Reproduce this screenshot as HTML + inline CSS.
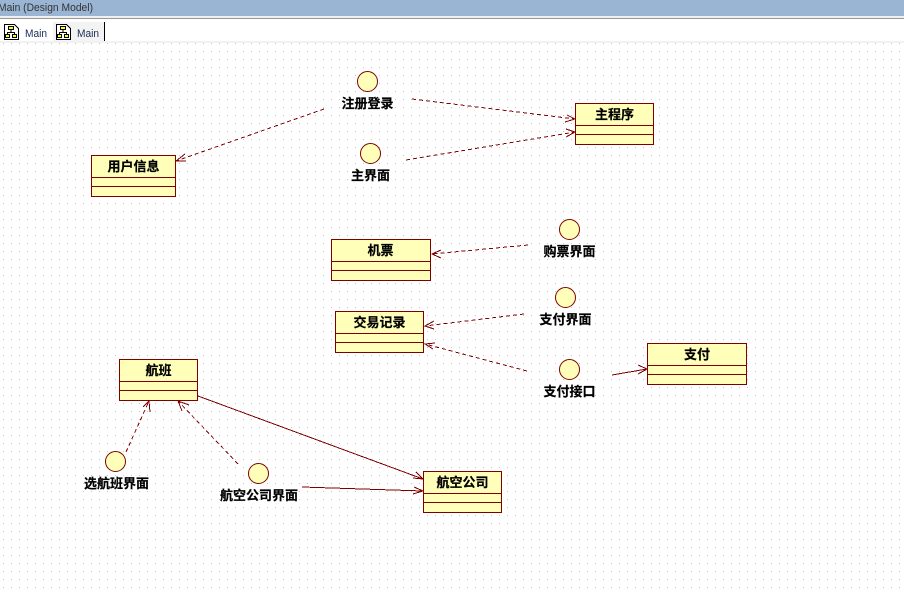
<!DOCTYPE html>
<html><head><meta charset="utf-8">
<style>
html,body{margin:0;padding:0;background:#fff}
#r{position:relative;width:904px;height:593px;overflow:hidden;background:#fff}
svg{position:absolute;left:0;top:0}
.l{font-family:"Liberation Sans","Noto Sans CJK SC",sans-serif;font-weight:700;font-size:13px;fill:#000;text-anchor:middle;stroke:#000;stroke-width:.2px}
.u{font-family:"Liberation Sans",sans-serif;font-size:11px}
</style></head><body><div id="r">
<svg width="904" height="593" viewBox="0 0 904 593" xmlns="http://www.w3.org/2000/svg">
<defs>
<pattern id="d" x="3" y="3" width="8" height="8" patternUnits="userSpaceOnUse"><rect width="1" height="1" fill="#c4c4c4"/></pattern>
<g id="ic" shape-rendering="crispEdges">
<path d="M0.5 0.5H10.5L14.5 4.5V15.5H0.5Z" fill="#fff" stroke="#000"/>
<rect x="4.5" y="2.5" width="5" height="3" fill="#ff0" stroke="#000"/>
<rect x="1.5" y="10.5" width="4" height="3" fill="#ff0" stroke="#000"/>
<rect x="8.5" y="10.5" width="4" height="3" fill="#ff0" stroke="#000"/>
<path d="M7 6V8.5M3.5 10V8.5H10.5V10" fill="none" stroke="#000"/>
</g>
</defs>
<rect y="43" width="904" height="550" fill="url(#d)"/>
<rect width="904" height="16" fill="#9ab4d3"/>
<rect y="16" width="904" height="2" fill="#f0f0f0"/>
<rect y="18" width="904" height="1" fill="#999"/>
<rect y="41" width="904" height="2" fill="#f2f2f2"/>
<rect x="53" y="22" width="51" height="19" fill="#f3f3f3"/>
<rect x="104" y="22" width="1" height="19" fill="#000"/>
<text x="-2" y="11" class="u" fill="#333" textLength="95" lengthAdjust="spacingAndGlyphs">Main (Design Model)</text>
<use href="#ic" x="4" y="24"/><use href="#ic" x="56" y="24"/>
<text x="25" y="37" class="u" fill="#1a2a5a" textLength="22" lengthAdjust="spacingAndGlyphs">Main</text>
<text x="77" y="37" class="u" fill="#1a2a5a" textLength="22" lengthAdjust="spacingAndGlyphs">Main</text>

<g fill="#ffffb9" stroke="#800000" shape-rendering="crispEdges">
<rect x="91.5" y="155.5" width="84" height="41"/><path d="M91.5 177.5H175.5M91.5 186.5H175.5"/>
<rect x="575.5" y="103.5" width="78" height="41"/><path d="M575.5 125.5H653.5M575.5 134.5H653.5"/>
<rect x="331.5" y="239.5" width="99" height="41"/><path d="M331.5 261.5H430.5M331.5 270.5H430.5"/>
<rect x="335.5" y="311.5" width="88" height="41"/><path d="M335.5 333.5H423.5M335.5 342.5H423.5"/>
<rect x="647.5" y="343.5" width="99" height="41"/><path d="M647.5 365.5H746.5M647.5 374.5H746.5"/>
<rect x="119.5" y="359.5" width="78" height="41"/><path d="M119.5 381.5H197.5M119.5 390.5H197.5"/>
<rect x="423.5" y="471.5" width="78" height="41"/><path d="M423.5 493.5H501.5M423.5 502.5H501.5"/>
</g>
<g fill="#ffffb9" stroke="#800000">
<circle cx="367.5" cy="81.5" r="10"/>
<circle cx="370.5" cy="153.5" r="10"/>
<circle cx="569.5" cy="229.5" r="10"/>
<circle cx="565.5" cy="297.5" r="10"/>
<circle cx="569.5" cy="369.5" r="10"/>
<circle cx="115.5" cy="461.5" r="10"/>
<circle cx="258.5" cy="473.5" r="10"/>
</g>

<g fill="none" stroke="#800000" stroke-width="1" shape-rendering="crispEdges">
<g stroke-dasharray="4 3">
<path d="M324 109L176 161"/>
<path d="M412 99L575 119"/>
<path d="M406 160L575 132"/>
<path d="M528 245L432 254"/>
<path d="M524 314L425 326"/>
<path d="M527 371L425 344"/>
<path d="M126 452L149 401"/>
<path d="M238 464L178 401"/>
</g>
<path d="M185 154L176 161L186 161"/>
<path d="M567 115L575 119L565 122"/>
<path d="M566 129L575 132L566 137"/>
<path d="M441 250L432 254L441 258"/>
<path d="M434 321L425 326L434 329"/>
<path d="M435 343L425 344L433 349"/>
<path d="M143 407L149 401L150 412"/>
<path d="M182 411L178 401L189 405"/>
<path d="M612 375L647 369"/>
<path d="M638 365L647 369L638 374"/>
<path d="M198 396L423 479"/>
<path d="M416 472L423 479L413 478"/>
<path d="M302 487L423 491"/>
<path d="M414 487L423 491L413 494"/>
</g>

<text class="l" x="133.5" y="171">用户信息</text>
<text class="l" x="614.5" y="119">主程序</text>
<text class="l" x="380.5" y="255">机票</text>
<text class="l" x="379.5" y="327">交易记录</text>
<text class="l" x="697" y="359">支付</text>
<text class="l" x="158.5" y="375">航班</text>
<text class="l" x="462.5" y="487">航空公司</text>
<text class="l" x="367.5" y="108">注册登录</text>
<text class="l" x="370.5" y="180">主界面</text>
<text class="l" x="569.5" y="256">购票界面</text>
<text class="l" x="565.5" y="324">支付界面</text>
<text class="l" x="569.5" y="396">支付接口</text>
<text class="l" x="116.5" y="488">选航班界面</text>
<text class="l" x="259" y="500">航空公司界面</text>
</svg>
</div></body></html>
